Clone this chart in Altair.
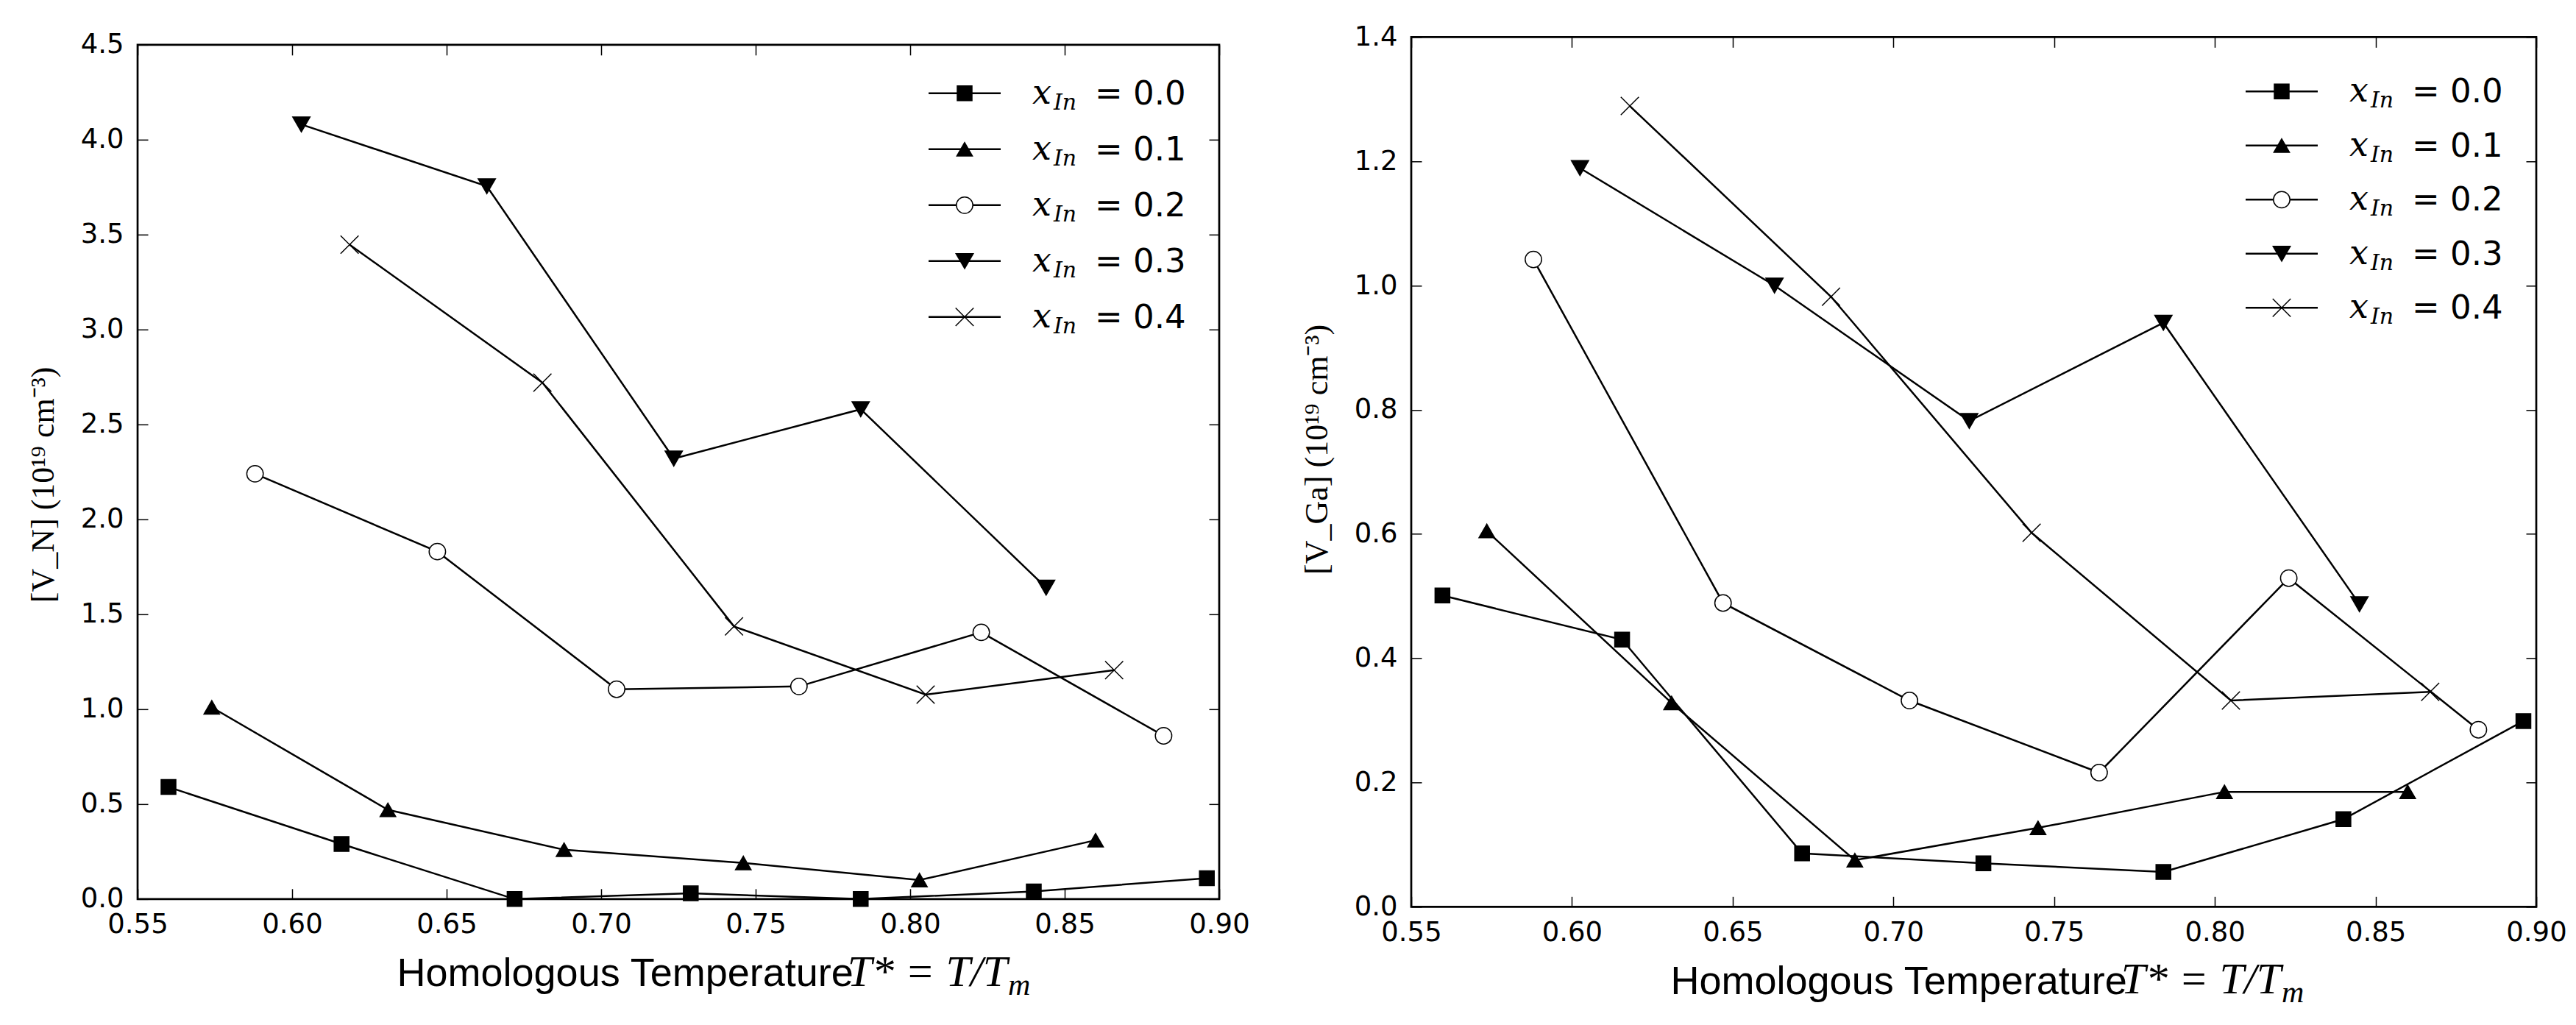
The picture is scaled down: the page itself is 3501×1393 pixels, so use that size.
import altair as alt
import pandas as pd

series = ["0.0", "0.1", "0.2", "0.3", "0.4"]

# ---- Left panel: [V_N] ----
vn_T_00 = [0.560, 0.616, 0.672, 0.729, 0.784, 0.840, 0.896]
vn_V_00 = [0.59, 0.29, 0.00, 0.03, 0.00, 0.04, 0.11]
vn_T_01 = [0.574, 0.631, 0.688, 0.746, 0.803, 0.860]
vn_V_01 = [1.01, 0.47, 0.26, 0.19, 0.10, 0.31]
vn_T_02 = [0.588, 0.647, 0.705, 0.764, 0.823, 0.882]
vn_V_02 = [2.24, 1.83, 1.105, 1.12, 1.405, 0.86]
vn_T_03 = [0.603, 0.663, 0.7235, 0.784, 0.844]
vn_V_03 = [4.08, 3.755, 2.32, 2.58, 1.64]
vn_T_04 = [0.6186, 0.681, 0.743, 0.805, 0.866]
vn_V_04 = [3.447, 2.72, 1.436, 1.077, 1.206]

# ---- Right panel: [V_Ga] ----
vga_T_00 = [0.5597, 0.6156, 0.6716, 0.728, 0.784, 0.840, 0.896]
vga_V_00 = [0.501, 0.430, 0.086, 0.070, 0.056, 0.141, 0.299]
vga_T_01 = [0.5735, 0.631, 0.688, 0.745, 0.803, 0.860]
vga_V_01 = [0.605, 0.328, 0.075, 0.127, 0.185, 0.185]
vga_T_02 = [0.588, 0.647, 0.705, 0.764, 0.823, 0.882]
vga_V_02 = [1.042, 0.489, 0.332, 0.216, 0.529, 0.285]
vga_T_03 = [0.6025, 0.663, 0.7236, 0.784, 0.845]
vga_V_03 = [1.189, 1.000, 0.782, 0.940, 0.487]
vga_T_04 = [0.618, 0.6806, 0.743, 0.805, 0.867]
vga_V_04 = [1.289, 0.982, 0.602, 0.332, 0.346]

x_ticks = [0.55, 0.60, 0.65, 0.70, 0.75, 0.80, 0.85, 0.90]
vn_ticks = [0.0, 0.5, 1.0, 1.5, 2.0, 2.5, 3.0, 3.5, 4.0, 4.5]
vga_ticks = [0.0, 0.2, 0.4, 0.6, 0.8, 1.0, 1.2, 1.4]

x_title = "Homologous Temperature"
math_main = "T* = T/T"
math_sub = "m"
vn_title = "[V_N] (10¹⁹ cm⁻³)"
vga_title = "[V_Ga] (10¹⁹ cm⁻³)"


def make_df(Ts, Vs):
    rows = []
    for s, T, V in zip(series, Ts, Vs):
        for t, v in zip(T, V):
            rows.append({"T": t, "V": v, "series": s})
    return pd.DataFrame(rows)


df_vn = make_df([vn_T_00, vn_T_01, vn_T_02, vn_T_03, vn_T_04],
                [vn_V_00, vn_V_01, vn_V_02, vn_V_03, vn_V_04])
df_vga = make_df([vga_T_00, vga_T_01, vga_T_02, vga_T_03, vga_T_04],
                 [vga_V_00, vga_V_01, vga_V_02, vga_V_03, vga_V_04])

shape_scale = alt.Scale(domain=series, range=["square", "triangle-up", "circle", "triangle-down",
                                               "M-1,-1L1,1M-1,1L1,-1"])
fill_scale = alt.Scale(domain=series, range=["black", "black", "white", "black", "black"])
size_scale = alt.Scale(domain=series, range=[400, 600, 440, 600, 440])

LABEL_FONT = "DejaVu Sans"
LABEL_SIZE = 37
TICK_LEN = 14


def panel(df, ymax, yticks, yfmt, ytitle, W, H, leg_top, leg_step, ytitle_shift):
    xs = alt.Scale(domain=[0.55, 0.90], nice=False, zero=False)
    ys = alt.Scale(domain=[0, ymax], nice=False, zero=False)
    base = alt.Chart(df)

    tick_axis = dict(labels=False, domain=False, grid=False, ticks=True, tickSize=TICK_LEN,
                     tickWidth=1.5, tickColor="black", title=None)

    lines = base.mark_line(color="black", strokeWidth=2.5).encode(
        x=alt.X("T:Q", scale=xs, axis=alt.Axis(
            orient="bottom", values=x_ticks, format=".2f", ticks=False, domain=False, grid=False,
            labelPadding=17, labelFont=LABEL_FONT, labelFontSize=LABEL_SIZE, labelColor="black",
            labelBaseline="top", labelFlush=False, labelOverlap=False,
            title=x_title, titleFont="Liberation Sans", titleFontSize=54,
            titleFontWeight="normal", titleColor="black", titleX=352, titleY=118,
            titleAlign="left", titleBaseline="alphabetic")),
        y=alt.Y("V:Q", scale=ys, axis=alt.Axis(
            orient="left", values=yticks, format=yfmt, ticks=False, domain=False, grid=False,
            labelPadding=19, labelFont=LABEL_FONT, labelFontSize=LABEL_SIZE, labelColor="black",
            labelFlush=False, labelOverlap=False,
            title=ytitle, titleFont="Liberation Serif", titleFontSize=44, titleFontWeight="normal",
            titleColor="black", titleX=-128, titleY=H / 2 + ytitle_shift, titleAngle=270,
            titleAlign="center", titleBaseline="middle")),
        detail="series:N",
    )

    pts = base.mark_point(filled=True, stroke="black", strokeWidth=1.5, opacity=1).encode(
        x=alt.X("T:Q", scale=xs, axis=alt.Axis(orient="top", offset=-H, values=x_ticks, **tick_axis)),
        y=alt.Y("V:Q", scale=ys, axis=alt.Axis(orient="right", offset=-W, values=yticks, **tick_axis)),
        shape=alt.Shape("series:N", scale=shape_scale, legend=None),
        fill=alt.Fill("series:N", scale=fill_scale, legend=None),
        size=alt.Size("series:O", scale=size_scale, legend=None),
    )

    ticks2 = base.mark_point(opacity=0).encode(
        x=alt.X("T:Q", scale=xs, axis=alt.Axis(orient="bottom", offset=-H, values=x_ticks, **tick_axis)),
        y=alt.Y("V:Q", scale=ys, axis=alt.Axis(orient="left", offset=-W, values=yticks, **tick_axis)),
    )

    m1 = alt.Chart(pd.DataFrame({"t": [math_main]})).mark_text(
        font="Liberation Serif", fontStyle="italic", fontSize=60, align="right",
        baseline="alphabetic", color="black").encode(
        text="t:N", x=alt.value(1182), y=alt.value(H + 118))
    m2 = alt.Chart(pd.DataFrame({"t": [math_sub]})).mark_text(
        font="Liberation Serif", fontStyle="italic", fontSize=42, align="left",
        baseline="alphabetic", color="black").encode(
        text="t:N", x=alt.value(1183), y=alt.value(H + 130))

    ldf = pd.DataFrame({"row": list(range(len(series))), "series": series,
                        "label": ["= " + s for s in series]})
    ly = alt.Y("row:Q", scale=alt.Scale(domain=[0, 4], range=[leg_top, leg_top + 4 * leg_step]),
               axis=None)
    lb = alt.Chart(ldf)
    lrule = lb.mark_rule(color="black", strokeWidth=2.5).encode(
        x=alt.value(W - 395), x2=alt.value(W - 297), y=ly)
    lpts = lb.mark_point(filled=True, stroke="black", strokeWidth=1.5, opacity=1).encode(
        x=alt.value(W - 346), y=ly,
        shape=alt.Shape("series:N", scale=shape_scale, legend=None),
        fill=alt.Fill("series:N", scale=fill_scale, legend=None),
        size=alt.Size("series:O", scale=size_scale, legend=None),
    )
    lx = lb.mark_text(font="DejaVu Serif", fontStyle="italic", fontSize=46, align="left",
                      baseline="alphabetic", dy=14, color="black").encode(
        x=alt.value(W - 254), y=ly, text=alt.value("x"))
    lin = lb.mark_text(font="DejaVu Serif", fontStyle="italic", fontSize=30, align="left",
                       baseline="alphabetic", dy=22, color="black").encode(
        x=alt.value(W - 225), y=ly, text=alt.value("In"))
    llab = lb.mark_text(font=LABEL_FONT, fontSize=45, align="left", baseline="alphabetic",
                        dy=15, color="black").encode(
        x=alt.value(W - 169), y=ly, text="label:N")
    legend = alt.layer(lrule, lpts, lx, lin, llab)

    return alt.layer(lines, pts, ticks2, m1, m2, legend).resolve_scale(
        y="independent").resolve_axis(x="independent", y="independent").properties(
        width=W, height=H)


left = panel(df_vn, 4.5, vn_ticks, ".1f", vn_title, 1470, 1161, 66, 76, 17)
right = panel(df_vga, 1.4, vga_ticks, ".1f", vga_title, 1529, 1182, 74, 73.5, -31)

chart = alt.hconcat(left, right, spacing=66, center=True).properties(
    padding={"left": 35, "top": 29, "right": 8, "bottom": 8},
    background="white",
).configure_view(stroke="black", strokeWidth=2.7)

chart.save("out.html", embed_options={"renderer": "svg", "actions": False})
